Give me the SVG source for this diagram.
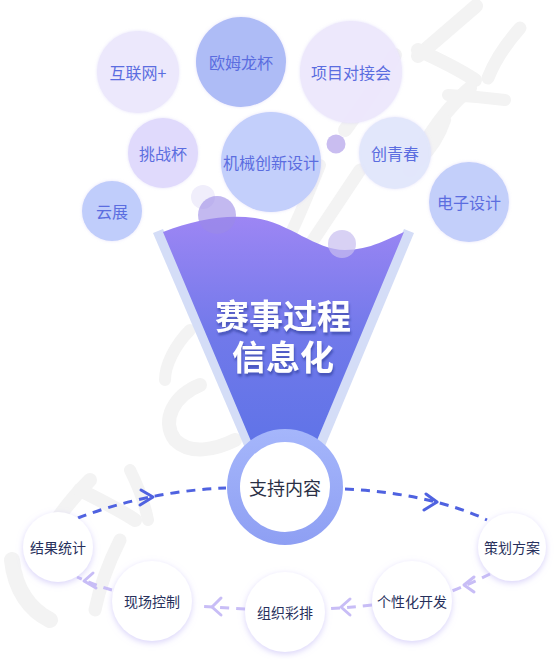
<svg xmlns="http://www.w3.org/2000/svg" width="557" height="660" viewBox="0 0 557 660">
<defs>
<linearGradient id="funnel" x1="0" y1="0" x2="0" y2="1">
<stop offset="0" stop-color="#9d86f4"/>
<stop offset="0.4" stop-color="#7179ea"/>
<stop offset="1" stop-color="#5570e6"/>
</linearGradient>
<linearGradient id="ring" x1="0" y1="0" x2="0" y2="1">
<stop offset="0" stop-color="#a5b6fb"/>
<stop offset="1" stop-color="#8e9ff3"/>
</linearGradient>
<filter id="glow" x="-30%" y="-30%" width="160%" height="160%">
<feDropShadow dx="0" dy="2" stdDeviation="3" flood-color="#b9aef5" flood-opacity="0.55"/>
</filter>
<filter id="soft" x="-20%" y="-20%" width="140%" height="140%">
<feDropShadow dx="0" dy="0" stdDeviation="1.5" flood-color="#c9c2f5" flood-opacity="0.5"/>
</filter>
<filter id="tshadow" x="-10%" y="-10%" width="120%" height="130%">
<feDropShadow dx="1" dy="3" stdDeviation="1.2" flood-color="#2c3a9a" flood-opacity="0.6"/>
</filter>
</defs>
<style>
.bt{font-family:"Noto Sans CJK SC","Noto Sans",sans-serif;font-size:16px;fill:#5b6de0;text-anchor:middle;dominant-baseline:central}
.nt{font-family:"Noto Sans CJK SC","Noto Sans",sans-serif;font-size:14px;fill:#27305c;text-anchor:middle;dominant-baseline:central}
.tt{font-family:"Noto Sans CJK SC",sans-serif;font-size:34px;font-weight:bold;fill:#ffffff;text-anchor:middle}
.node{fill:#ffffff;filter:url(#glow)}
.wm{fill:none;stroke:#f3f3f3;stroke-linecap:round;stroke-linejoin:round}
.dash1{fill:none;stroke:#4f62e0;stroke-width:3;stroke-dasharray:9 7}
.dash2{fill:none;stroke:#c8bdf6;stroke-width:3;stroke-dasharray:9 7}
.chev1{fill:none;stroke:#4f62e0;stroke-width:3;stroke-linecap:round;stroke-linejoin:round}
.chev2{fill:none;stroke:#c8bdf6;stroke-width:3;stroke-linecap:round;stroke-linejoin:round}
</style>
<rect width="557" height="660" fill="#ffffff"/>
<g id="watermark">
<path class="wm" stroke-width="14" d="M476 6 L418 56"/>
<path class="wm" stroke-width="14" d="M418 50 C440 60 460 70 475 80"/>
<path class="wm" stroke-width="13" d="M520 28 C505 45 495 60 488 78"/>
<path class="wm" stroke-width="14" d="M470 88 C450 105 430 130 410 170"/>
<path class="wm" stroke-width="12" d="M448 95 C470 96 490 98 505 100"/>
<path class="wm" stroke-width="12" d="M445 120 C440 135 430 150 420 160"/>
<path class="wm" stroke-width="14" d="M395 55 C380 80 360 110 345 130"/>
<path class="wm" stroke-width="13" d="M360 170 C340 200 320 230 300 260"/>
<path class="wm" stroke-width="12" d="M320 165 C310 190 300 215 290 235"/>
<path class="wm" stroke-width="14" d="M200 385 C175 395 160 420 175 440 C190 455 215 450 235 440"/>
<path class="wm" stroke-width="12" d="M190 330 C175 345 165 365 165 380"/>
<path class="wm" stroke-width="14" d="M90 480 C70 500 55 520 40 545"/>
<path class="wm" stroke-width="16" d="M12 560 C15 590 30 610 50 620"/>
<path class="wm" stroke-width="14" d="M80 490 C100 500 120 510 135 520"/>
<path class="wm" stroke-width="13" d="M120 540 C110 560 100 585 95 610"/>
<path class="wm" stroke-width="12" d="M130 470 C140 490 145 505 148 520"/>
</g>
<g id="bubbles">
<g id="b-hulianwang"><circle cx="138" cy="72" r="41" fill="#ece8fc" filter="url(#soft)"/><text class="bt" x="138" y="72">互联网+</text></g>
<g id="b-oumulong"><circle cx="241" cy="62" r="45" fill="#aebcf6" filter="url(#soft)"/><text class="bt" x="241" y="62">欧姆龙杯</text></g>
<g id="b-xiangmu"><circle cx="351" cy="72" r="51" fill="#ede8fc" fill-opacity="0.95" filter="url(#soft)"/><text class="bt" x="351" y="72">项目对接会</text></g>
<g id="b-tiaozhan"><circle cx="163" cy="153" r="35" fill="#e0dafc" filter="url(#soft)"/><text class="bt" x="163" y="153">挑战杯</text></g>
<g id="b-jixie"><circle cx="271" cy="162" r="50" fill="#c3cffb" filter="url(#soft)"/><text class="bt" x="271" y="162">机械创新设计</text></g>
<g id="b-chuangqing"><circle cx="395" cy="153" r="36" fill="#e2e7fb" fill-opacity="0.95" filter="url(#soft)"/><text class="bt" x="395" y="153">创青春</text></g>
<g id="b-yunzhan"><circle cx="112" cy="211" r="30" fill="#c0cdfb" filter="url(#soft)"/><text class="bt" x="112" y="211">云展</text></g>
<g id="b-dianzi"><circle cx="469" cy="202" r="40" fill="#c3cffa" filter="url(#soft)"/><text class="bt" x="469" y="202">电子设计</text></g>
<circle cx="336" cy="144" r="9.5" fill="#c9bdf0"/>
<circle cx="203" cy="197" r="12" fill="#f0eefb"/>
</g>
<g id="funnel-group">
<polygon points="153,233 163,229 290,530 280,530" fill="#d4ddf7"/>
<polygon points="404,229 414,233 290,530 280,530" fill="#d4ddf7"/>
<path d="M163 232 C195 220 225 214 255 218 C290 223 315 250 345 250 C370 250 390 238 404 232 L288 510 L280 510 Z" fill="url(#funnel)"/>
<circle cx="217" cy="215" r="19" fill="#9b8ae6" opacity="0.6"/>
<circle cx="342" cy="244" r="14" fill="#c7bdf0" opacity="0.7"/>
<g filter="url(#tshadow)">
<text class="tt" x="283" y="329"><tspan x="283" y="329">赛事过程</tspan><tspan x="283" y="370">信息化</tspan></text>
</g>
</g>
<g id="connectors">
<path class="dash1" d="M78 518 C120 502 170 490 226 488"/>
<polyline class="chev1" points="141,490 153,497 140,505"/>
<path class="dash1" d="M345 489 C395 491 450 502 487 520"/>
<polyline class="chev1" points="426,494 437,502 424,510"/>
<path class="dash2" d="M490 574 C478 580 465 586 452 591"/>
<polyline class="chev2" points="474,577 464,585 474,592"/>
<path class="dash2" d="M372 605 C355 607 340 608 325 609"/>
<polyline class="chev2" points="350,599 341,607 350,615"/>
<path class="dash2" d="M245 609 C230 608 214 607 198 606"/>
<polyline class="chev2" points="221,598 212,607 221,615"/>
<path class="dash2" d="M112 590 C100 587 88 582 77 577"/>
<polyline class="chev2" points="93,573 84,581 96,588"/>
</g>
<g id="center-node">
<circle cx="285" cy="487" r="58" fill="url(#ring)"/>
<circle cx="285" cy="487" r="45" fill="#ffffff"/>
<text x="285" y="487" font-family="Noto Sans CJK SC,sans-serif" font-size="18" fill="#2a2f45" text-anchor="middle" dominant-baseline="central">支持内容</text>
</g>
<g id="n-jieguo"><circle class="node" cx="58" cy="547" r="35"/><text class="nt" x="58" y="547">结果统计</text></g>
<g id="n-xianchang"><circle class="node" cx="152" cy="601" r="40"/><text class="nt" x="152" y="601">现场控制</text></g>
<g id="n-zuzhi"><circle class="node" cx="285" cy="612" r="40"/><text class="nt" x="285" y="612">组织彩排</text></g>
<g id="n-gexinghua"><circle class="node" cx="412" cy="601" r="40"/><text class="nt" x="412" y="601">个性化开发</text></g>
<g id="n-cehua"><circle class="node" cx="512" cy="547" r="34"/><text class="nt" x="512" y="547">策划方案</text></g>
</svg>
